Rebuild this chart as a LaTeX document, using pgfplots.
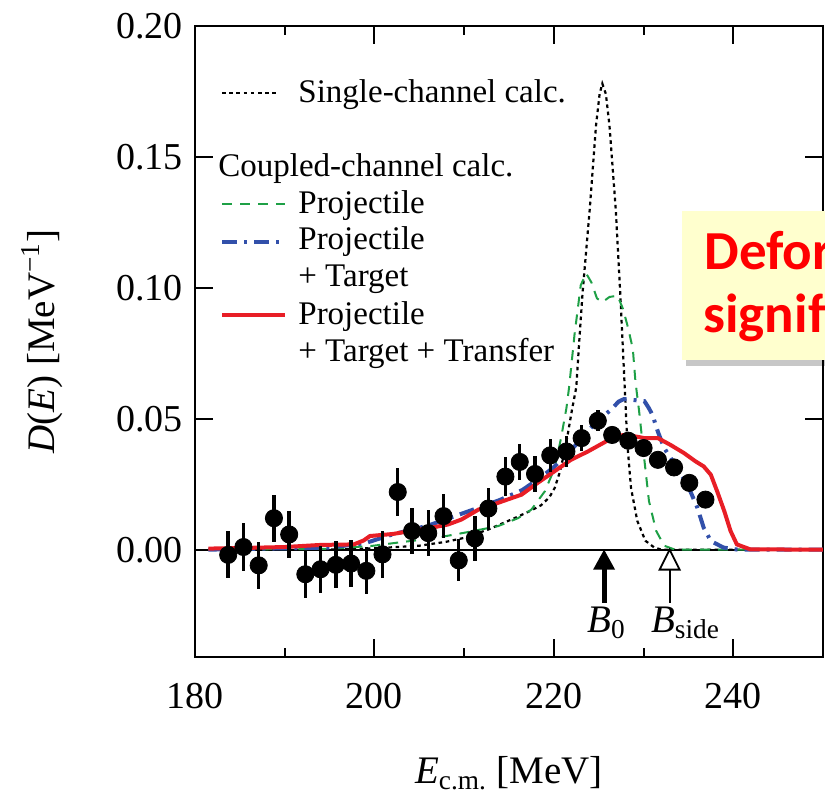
\documentclass[border=0pt]{standalone}
\usepackage{pgfplots}
\pgfplotsset{compat=1.18}
\usepackage{pgfplotstable}
\usepackage{fontspec}
\setmainfont{Liberation Serif}
\newfontfamily\annotfont{Carlito}
\definecolor{cred}{RGB}{232,30,38}
\definecolor{cblue}{RGB}{50,80,170}
\definecolor{cgreen}{RGB}{30,160,70}
\definecolor{boxyellow}{RGB}{255,255,206}

\pgfplotstableread{
E D err
183.7 -0.002 0.009
185.4 0.001 0.009
187.1 -0.006 0.009
188.8 0.012 0.009
190.5 0.0058 0.009
192.3 -0.0094 0.009
194.0 -0.0075 0.009
195.7 -0.0058 0.009
197.4 -0.0053 0.009
199.1 -0.0081 0.009
200.9 -0.0018 0.009
202.6 0.022 0.009
204.2 0.0071 0.0088
206.0 0.0063 0.0088
207.7 0.0128 0.0085
209.4 -0.0041 0.008
211.2 0.0043 0.0085
212.7 0.0157 0.008
214.6 0.0279 0.0076
216.2 0.0335 0.0068
217.9 0.0289 0.007
219.6 0.036 0.0064
221.4 0.0375 0.006
223.1 0.0426 0.005
224.9 0.0492 0.004
226.5 0.0438 0.003
228.3 0.0416 0.003
230.0 0.0388 0.003
231.6 0.0343 0.003
233.4 0.0314 0.003
235.1 0.0255 0.003
236.9 0.0191 0.003
}\expdata

\pgfplotstableread{
E D
181.5 0
195 0
200 0.0005
205 0.0015
208 0.003
210 0.0045
212.7 0.0077
215.6 0.012
217.5 0.015
218.6 0.017
219.5 0.020
220.1 0.0236
220.7 0.030
221.2 0.0376
221.6 0.045
222.0 0.053
222.5 0.062
222.8 0.078
223.2 0.098
224.0 0.130
224.7 0.162
225.1 0.174
225.4 0.178
225.8 0.174
226.2 0.162
226.9 0.130
227.4 0.098
227.9 0.062
228.2 0.040
228.6 0.0236
229.3 0.011
230.2 0.0034
231.2 0.0008
232.0 0
250 0
}\single

\pgfplotstableread{
E D
181.5 0
195 0.0003
199.9 0.0015
203.3 0.003
206.4 0.0042
210.1 0.0065
213.8 0.009
216.0 0.012
217.5 0.0153
219.0 0.0223
220.1 0.0312
220.8 0.0426
221.4 0.054
221.7 0.062
222.3 0.082
223.0 0.101
223.6 0.1055
224.2 0.102
224.8 0.096
225.4 0.0945
226.2 0.0965
227.1 0.097
227.7 0.092
228.2 0.0857
228.8 0.0768
229.1 0.064
229.5 0.053
230.1 0.034
230.6 0.0186
231.4 0.0072
232.3 0.0015
233.5 0
250 0
}\proj

\pgfplotstableread{
E D
181.5 0
195 0.0008
199 0.0025
202 0.0058
206 0.0092
209.3 0.0132
212 0.0165
214 0.019
216.5 0.0228
218.5 0.0275
220 0.0315
221.5 0.0365
223 0.042
224.5 0.048
225.5 0.051
226.4 0.0535
227.2 0.0565
227.8 0.0575
228.5 0.0573
229.3 0.057
230.1 0.0567
230.6 0.054
231.0 0.0514
231.6 0.045
232.3 0.0388
233.4 0.033
234.9 0.0248
236.0 0.016
236.7 0.0084
237.5 0.0033
238.9 0.0008
240.5 0
250 0
}\projtarg

\pgfplotstableread{
E D
181.5 0.0004
185 0.0006
190 0.0010
194 0.0018
197.7 0.0020
198.8 0.0035
199.5 0.0052
202.1 0.0060
204 0.0071
206.4 0.0084
208.2 0.0096
209.7 0.0115
211.6 0.0153
213.8 0.0179
216.4 0.021
218.2 0.0255
220.1 0.030
221.9 0.0343
223.8 0.0375
225.8 0.0413
226.6 0.0435
228.2 0.0438
230.1 0.0426
231.6 0.0426
233.0 0.040
234.5 0.0369
235.8 0.0337
236.7 0.0318
237.5 0.0286
238.2 0.0223
239.0 0.0147
239.7 0.0071
240.4 0.002
241.9 0.0001
250 0
}\full

\begin{document}
\begin{tikzpicture}
\useasboundingbox (-97.5pt,-69pt) rectangle (315pt,328.5pt);
\clip (-97.5pt,-69pt) rectangle (315pt,328.5pt);
\begin{axis}[
  scale only axis,
  width=314pt, height=315.5pt,
  xmin=180, xmax=250,
  ymin=-0.041, ymax=0.2,
  xtick={180,200,220,240},
  minor x tick num=1,
  ytick={0,0.05,0.1,0.15,0.2},
  tick align=inside,
  major tick length=9pt,
  minor tick length=4.5pt,
  axis line style={line width=1pt},
  every tick/.style={black, line width=1pt},
  /pgf/number format/assume math mode=true,
  tick label style={font=\fontsize{19}{22}\selectfont},
  yticklabel style={/pgf/number format/.cd, fixed, fixed zerofill, precision=2, /tikz/.cd, anchor=east, inner sep=0pt, xshift=-6pt},
  xticklabel style={anchor=north, inner sep=0pt, yshift=-13pt},
  label style={font=\fontsize{19.5}{23}\selectfont},
  xlabel={\textit{E}\textsubscript{c.m.} [MeV]},
  ylabel={\textit{D}(\textit{E}) [MeV\textsuperscript{−1}]},
  x label style={at={(axis description cs:0.5,-0.1997)}, anchor=base},
  y label style={at={(axis description cs:-0.2436,0.5)}, anchor=center, rotate=0},
  clip=true,
]
\draw[black, line width=1pt] (axis cs:180,0) -- (axis cs:250,0);

\addplot[black, line width=1.1pt, dash pattern=on 1.8pt off 1.8pt] table[x=E,y=D] {\single};
\addplot[cgreen, line width=1pt, dash pattern=on 5pt off 4pt] table[x=E,y=D] {\proj};
\addplot[cblue, line width=2pt, dash pattern=on 7.5pt off 3.5pt on 1.5pt off 3.5pt] table[x=E,y=D] {\projtarg};
\addplot[cred, line width=2pt] table[x=E,y=D] {\full};

\addplot[black, only marks, mark=*, mark size=4.3pt,
  error bars/.cd, y dir=both, y explicit,
  error bar style={line width=1.7pt, black}, error mark=none]
  table[x=E,y=D,y error=err] {\expdata};

\coordinate (b0tip) at (axis cs:225.6,0);
\coordinate (b0end) at (axis cs:225.6,-0.0202);
\coordinate (bstip) at (axis cs:232.9,0);
\coordinate (bsend) at (axis cs:232.9,-0.0202);
\coordinate (b0lab) at (axis cs:223.67,-0.0316);
\coordinate (bslab) at (axis cs:230.8,-0.0316);
\end{axis}

% arrows B0 and Bside
\fill[black] (b0tip) -- ++(-5.5pt,-10pt) -- ++(11pt,0pt) -- cycle;
\draw[black, line width=2.5pt] ([yshift=-9pt]b0tip) -- (b0end);
\draw[black, line width=1pt] ([yshift=-10pt]bstip) -- (bsend);
\draw[black, line width=0.9pt, fill=white] (bstip) -- ++(-5pt,-10pt) -- ++(10pt,0pt) -- cycle;
\node[anchor=base west, inner sep=0pt, font=\fontsize{19.5}{23}\selectfont] at (b0lab) {\textit{B}\textsubscript{0}};
\node[anchor=base west, inner sep=0pt, font=\fontsize{19.5}{23}\selectfont] at (bslab) {\textit{B}\textsubscript{side}};

% legend
\begin{scope}[every node/.style={anchor=base west, inner sep=0pt, font=\fontsize{16.5}{19}\selectfont}]
\draw[black, line width=1.1pt, dash pattern=on 1.8pt off 1.8pt] (13.5pt,282pt) -- (41.5pt,282pt);
\node at (51.5pt,277pt) {Single-channel calc.};
\node at (11.5pt,240.2pt) {Coupled-channel calc.};
\draw[cgreen, line width=1pt, dash pattern=on 5pt off 4pt] (13.5pt,226.5pt) -- (45pt,226.5pt);
\node at (51.5pt,221.8pt) {Projectile};
\draw[cblue, line width=2pt, dash pattern=on 7.5pt off 3.5pt on 1.5pt off 3.5pt] (13.5pt,207.7pt) -- (45pt,207.7pt);
\node at (51.5pt,203.5pt) {Projectile};
\node at (51.5pt,185.2pt) {+ Target};
\draw[cred, line width=2pt] (13.5pt,171pt) -- (45pt,171pt);
\node at (51.5pt,166pt) {Projectile};
\node at (51.5pt,147.7pt) {+ Target + Transfer};
\end{scope}

% annotation box
\fill[black, opacity=0.22] (245.5pt,145.5pt) rectangle (400pt,221pt);
\fill[boxyellow] (243.5pt,148.5pt) rectangle (400pt,223pt);
\node[anchor=base west, inner sep=0pt, text=red, font=\annotfont\bfseries\fontsize{27.5}{32}\selectfont] at (254.5pt,193.5pt) {Deformation effect};
\node[anchor=base west, inner sep=0pt, text=red, font=\annotfont\bfseries\fontsize{27.5}{32}\selectfont] at (254pt,162pt) {significant};
\end{tikzpicture}
\end{document}
